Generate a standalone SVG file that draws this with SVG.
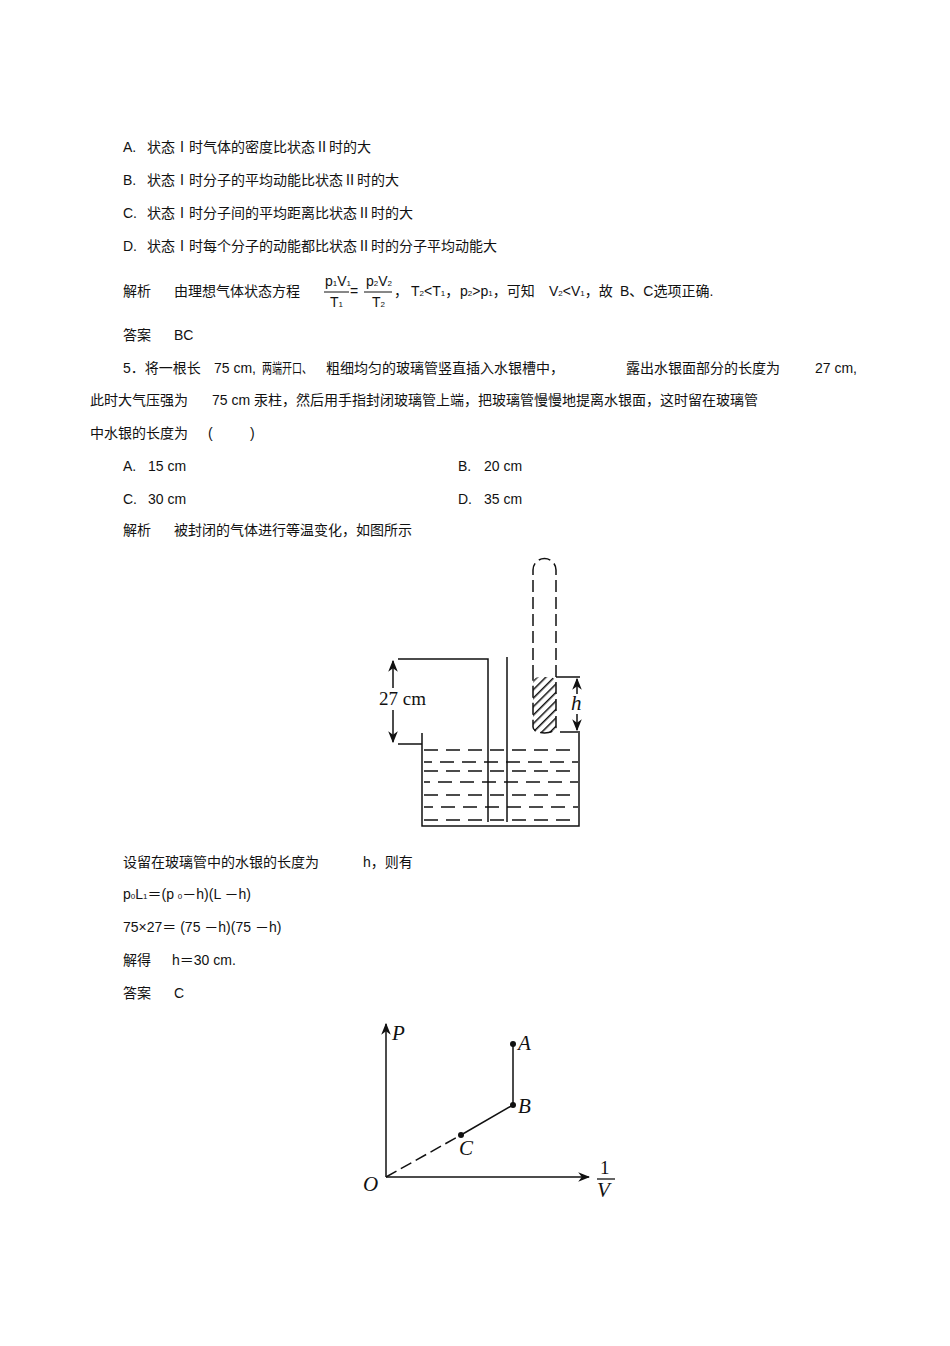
<svg xmlns="http://www.w3.org/2000/svg" width="950" height="1346" viewBox="0 0 950 1346" xml:space="preserve">
<style>
.t{font-family:"Liberation Sans","Noto Sans CJK SC",sans-serif;font-size:14px;fill:#111}
.s{font-family:"Liberation Sans",sans-serif;font-size:8px;fill:#111}
.m{font-family:"Liberation Serif",serif;font-size:19px;fill:#111}
.i{font-family:"Liberation Serif",serif;font-style:italic;font-size:21px;fill:#111}
.l{stroke:#111;stroke-width:1.5;fill:none}
.d{stroke:#111;stroke-width:1.5;fill:none;stroke-dasharray:12 5}
</style>
<defs>
<marker id="ar" viewBox="0 0 10 10" refX="9" refY="5" markerWidth="8" markerHeight="8" orient="auto-start-reverse"><path d="M0,1 L10,5 L0,9 L3,5 z" fill="#111"/></marker>
<pattern id="hat" width="6" height="6" patternUnits="userSpaceOnUse" patternTransform="rotate(45)"><rect width="6" height="6" fill="#fff"/><line x1="0" y1="0" x2="0" y2="6" stroke="#111" stroke-width="3"/></pattern>
</defs>
<g id="text">
<text class="t" x="123" y="152">A.</text><text class="t" x="147" y="152">状态Ⅰ时气体的密度比状态Ⅱ时的大</text>
<text class="t" x="123" y="185">B.</text><text class="t" x="147" y="185">状态Ⅰ时分子的平均动能比状态Ⅱ时的大</text>
<text class="t" x="123" y="218">C.</text><text class="t" x="147" y="218">状态Ⅰ时分子间的平均距离比状态Ⅱ时的大</text>
<text class="t" x="123" y="251">D.</text><text class="t" x="147" y="251">状态Ⅰ时每个分子的动能都比状态Ⅱ时的分子平均动能大</text>
<text class="t" x="123" y="296">解析</text>
<text class="t" x="174" y="296">由理想气体状态方程</text>
<text class="t" x="325" y="286">p<tspan class="s">1</tspan>V<tspan class="s">1</tspan></text>
<line x1="324" y1="292" x2="349" y2="292" stroke="#111" stroke-width="1"/>
<text class="t" x="330" y="307">T<tspan class="s">1</tspan></text>
<text class="t" x="350" y="296">=</text>
<text class="t" x="366" y="286">p<tspan class="s">2</tspan>V<tspan class="s">2</tspan></text>
<line x1="364" y1="292" x2="392" y2="292" stroke="#111" stroke-width="1"/>
<text class="t" x="372" y="307">T<tspan class="s">2</tspan></text>
<text class="t" x="394" y="296">，</text>
<text class="t" x="411" y="296">T<tspan class="s">2</tspan>&lt;T<tspan class="s">1</tspan>，</text>
<text class="t" x="460" y="296">p<tspan class="s">2</tspan>&gt;p<tspan class="s">1</tspan>，可知</text>
<text class="t" x="549" y="296">V<tspan class="s">2</tspan>&lt;V<tspan class="s">1</tspan>，故</text>
<text class="t" x="620" y="296">B、C选项正确.</text>
<text class="t" x="123" y="340">答案</text>
<text class="t" x="174" y="340">BC</text>
<text class="t" x="123" y="373">5．将一根长</text>
<text class="t" x="214" y="373">75 cm,</text>
<text class="t" x="262" y="373" textLength="50" lengthAdjust="spacingAndGlyphs">两端开口、</text>
<text class="t" x="326" y="373">粗细均匀的玻璃管竖直插入水银槽中，</text>
<text class="t" x="626" y="373">露出水银面部分的长度为</text>
<text class="t" x="815" y="373">27 cm,</text>
<text class="t" x="90" y="405">此时大气压强为</text>
<text class="t" x="212" y="405">75 cm 汞柱，然后用手指封闭玻璃管上端，把玻璃管慢慢地提离水银面，这时留在玻璃管</text>
<text class="t" x="90" y="438">中水银的长度为</text>
<text class="t" x="208" y="438">(</text><text class="t" x="250" y="438">)</text>
<text class="t" x="123" y="471">A.</text><text class="t" x="148" y="471">15 cm</text>
<text class="t" x="458" y="471">B.</text><text class="t" x="484" y="471">20 cm</text>
<text class="t" x="123" y="504">C.</text><text class="t" x="148" y="504">30 cm</text>
<text class="t" x="458" y="504">D.</text><text class="t" x="484" y="504">35 cm</text>
<text class="t" x="123" y="535">解析</text>
<text class="t" x="174" y="535">被封闭的气体进行等温变化，如图所示</text>
<text class="t" x="123" y="867">设留在玻璃管中的水银的长度为</text>
<text class="t" x="363" y="867">h，则有</text>
<text class="t" x="123" y="899">p<tspan class="s">0</tspan>L<tspan class="s">1</tspan>＝(p <tspan class="s">0</tspan>－h)(L  －h)</text>
<text class="t" x="123" y="932">75×27＝ (75 －h)(75  －h)</text>
<text class="t" x="123" y="965">解得</text>
<text class="t" x="172" y="965">h＝30 cm.</text>
<text class="t" x="123" y="998">答案</text>
<text class="t" x="174" y="998">C</text>
</g>
<g id="tube-figure">
<path class="l" d="M422,733 V826 H579 V733"/>
<path class="l" d="M398,659 H488 V822"/>
<line class="l" x1="507" y1="657" x2="507" y2="822"/>
<line class="l" x1="393" y1="661" x2="393" y2="742" marker-start="url(#ar)" marker-end="url(#ar)"/>
<line class="l" x1="398" y1="744" x2="422" y2="744"/>
<rect x="377" y="688" width="52" height="22" fill="#fff"/>
<text class="m" x="379" y="705">27 cm</text>
<g stroke="#111" stroke-width="1.5" stroke-dasharray="14 8">
<line x1="424" y1="750" x2="578" y2="750"/>
<line x1="424" y1="762" x2="578" y2="762" stroke-dashoffset="6"/>
<line x1="424" y1="771" x2="578" y2="771"/>
<line x1="424" y1="782" x2="578" y2="782" stroke-dashoffset="8"/>
<line x1="424" y1="795" x2="578" y2="795"/>
<line x1="424" y1="807" x2="578" y2="807" stroke-dashoffset="5"/>
<line x1="424" y1="820" x2="578" y2="820"/>
</g>
<rect x="533" y="677" width="23" height="56" rx="6" fill="url(#hat)"/>
<path class="d" d="M533,677 V570 A11.5,11.5 0 0 1 556,570 V727 A11.5,6 0 0 1 533,727 V677" stroke-dasharray="8 4"/>
<line class="l" x1="556" y1="677" x2="580" y2="677"/>
<line class="l" x1="560" y1="732" x2="580" y2="732"/>
<line class="l" x1="577" y1="679" x2="577" y2="730" marker-start="url(#ar)" marker-end="url(#ar)"/>
<rect x="570" y="694" width="14" height="20" fill="#fff"/>
<text class="i" x="571" y="710" font-size="18">h</text>
</g>
<g id="graph">
<line class="l" x1="386" y1="1177" x2="386" y2="1024" marker-end="url(#ar)"/>
<line class="l" x1="386" y1="1177" x2="589" y2="1177" marker-end="url(#ar)"/>
<line class="d" x1="386" y1="1177" x2="461" y2="1135" stroke-dasharray="6 4"/>
<path class="l" d="M461,1135 L513,1105 V1044"/>
<circle cx="513" cy="1044" r="3" fill="#111"/>
<circle cx="513" cy="1105" r="3" fill="#111"/>
<circle cx="461" cy="1135" r="3" fill="#111"/>
<text class="i" x="392" y="1040">P</text>
<text class="i" x="518" y="1050">A</text>
<text class="i" x="518" y="1113">B</text>
<text class="i" x="459" y="1155">C</text>
<text class="i" x="363" y="1191">O</text>
<text class="m" x="600" y="1174">1</text>
<line x1="597" y1="1179" x2="615" y2="1179" stroke="#111" stroke-width="1.3"/>
<text class="i" x="597" y="1197">V</text>
</g>
</svg>
